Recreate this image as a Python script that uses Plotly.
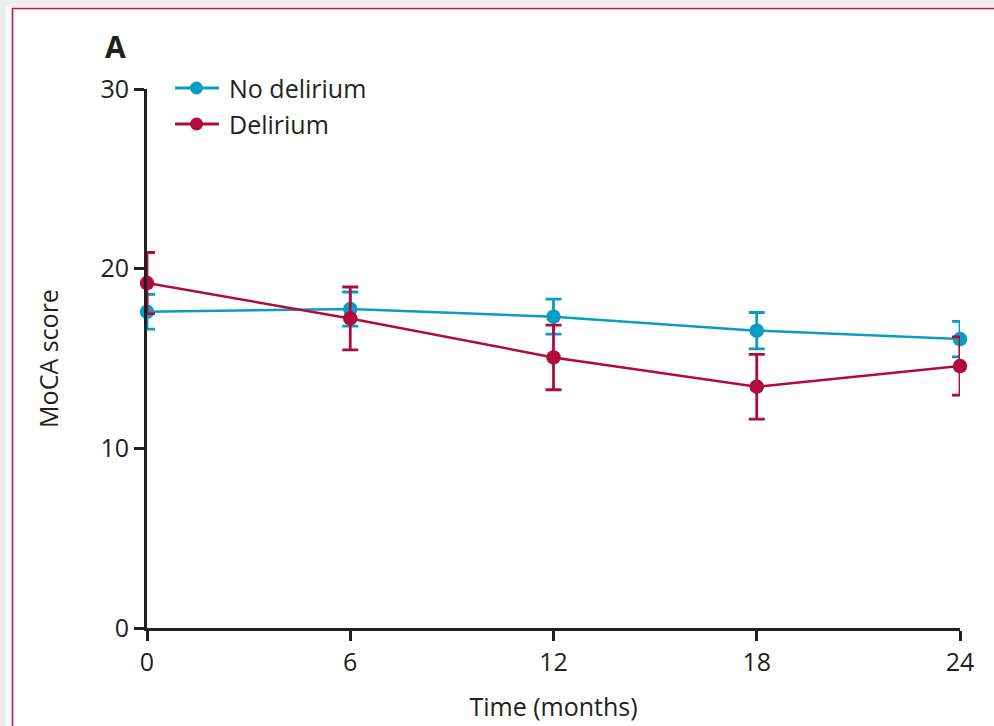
import plotly.graph_objects as go

months = [0, 6, 12, 18, 24]
no_delirium = [17.6, 17.75, 17.33, 16.55, 16.08]
no_delirium_err = [0.97, 0.95, 0.97, 1.01, 0.99]
delirium = [19.2, 17.23, 15.06, 13.43, 14.58]
delirium_err = [1.7, 1.75, 1.8, 1.8, 1.62]
series_names = ["No delirium", "Delirium"]

BLUE = "#0a9dc4"
RED = "#b00c3b"
TXT = "#231f20"
FONT = "Open Sans"

W, H = 994, 726
L, R, T, B = 147, 34, 89, 98

fig = go.Figure()
for name, ys, errs, col in [(series_names[0], no_delirium, no_delirium_err, BLUE),
                            (series_names[1], delirium, delirium_err, RED)]:
    fig.add_trace(go.Scatter(
        x=months, y=ys, name=name, mode="lines+markers", cliponaxis=False,
        line=dict(color=col, width=2.5), marker=dict(color=col, size=14.5),
        error_y=dict(type="data", array=errs, color=col, thickness=2.8, width=8),
        showlegend=False,
    ))

pw = W - L - R
ph = H - T - B
def px(xp):
    return (xp - L) / pw
def py(yp):
    return (H - B - yp) / ph

shapes = [
    dict(type="rect", xref="paper", yref="paper", x0=px(0), x1=px(W), y0=py(0), y1=py(7),
         fillcolor="#eeeeee", line=dict(width=0), layer="below"),
    dict(type="rect", xref="paper", yref="paper", x0=px(0), x1=px(6), y0=py(0), y1=py(H),
         fillcolor="#eeeeee", line=dict(width=0), layer="below"),
    dict(type="line", xref="paper", yref="paper", x0=px(12), x1=px(W), y0=py(8.5), y1=py(8.5),
         line=dict(color="#c0114a", width=1.6)),
    dict(type="line", xref="paper", yref="paper", x0=px(12.5), x1=px(12.5), y0=py(8), y1=py(H),
         line=dict(color="#c0114a", width=1.6)),
]
annotations = [
    dict(text="<b>A</b>", x=px(103), y=py(47), xref="paper", yref="paper",
         xanchor="left", yanchor="middle", showarrow=False, font=dict(size=30, color=TXT)),
]

# manual legend
for i, (name, col) in enumerate(zip(series_names, [BLUE, RED])):
    yc = 88 + 36 * i
    shapes.append(dict(type="line", xref="paper", yref="paper", x0=px(175), x1=px(219),
                       y0=py(yc), y1=py(yc), line=dict(color=col, width=3)))
    shapes.append(dict(type="circle", xref="paper", yref="paper", x0=px(190), x1=px(203),
                       y0=py(yc + 6.5), y1=py(yc - 6.5), fillcolor=col, line=dict(width=0)))
    annotations.append(dict(text=name, x=px(227), y=py(yc), xref="paper", yref="paper",
                            xanchor="left", yanchor="middle", showarrow=False,
                            font=dict(size=25, color=TXT)))

fig.update_layout(
    width=W, height=H,
    margin=dict(l=L, r=R, t=T, b=B, pad=0),
    paper_bgcolor="white", plot_bgcolor="white",
    font=dict(family=FONT, color=TXT, size=25),
    shapes=shapes,
    annotations=annotations,
    showlegend=False,
    xaxis=dict(
        range=[0, 24], tickvals=months, ticktext=[str(m) for m in months],
        showgrid=False, zeroline=False, showline=True, linecolor=TXT, linewidth=3,
        ticks="outside", ticklen=10, tickwidth=3, tickcolor=TXT,
        tickfont=dict(size=25, color=TXT), automargin=False,
        title=dict(text="Time (months)", font=dict(size=25, color=TXT), standoff=22),
        fixedrange=True,
    ),
    yaxis=dict(
        range=[0, 30], tickvals=[0, 10, 20, 30],
        showgrid=False, zeroline=False, showline=True, linecolor=TXT, linewidth=3,
        ticks="outside", ticklen=10, tickwidth=3, tickcolor=TXT,
        tickfont=dict(size=25, color=TXT), automargin=False,
        title=dict(text="MoCA score", font=dict(size=25, color=TXT), standoff=35),
        fixedrange=True,
    ),
)

fig.write_html("out.html")
